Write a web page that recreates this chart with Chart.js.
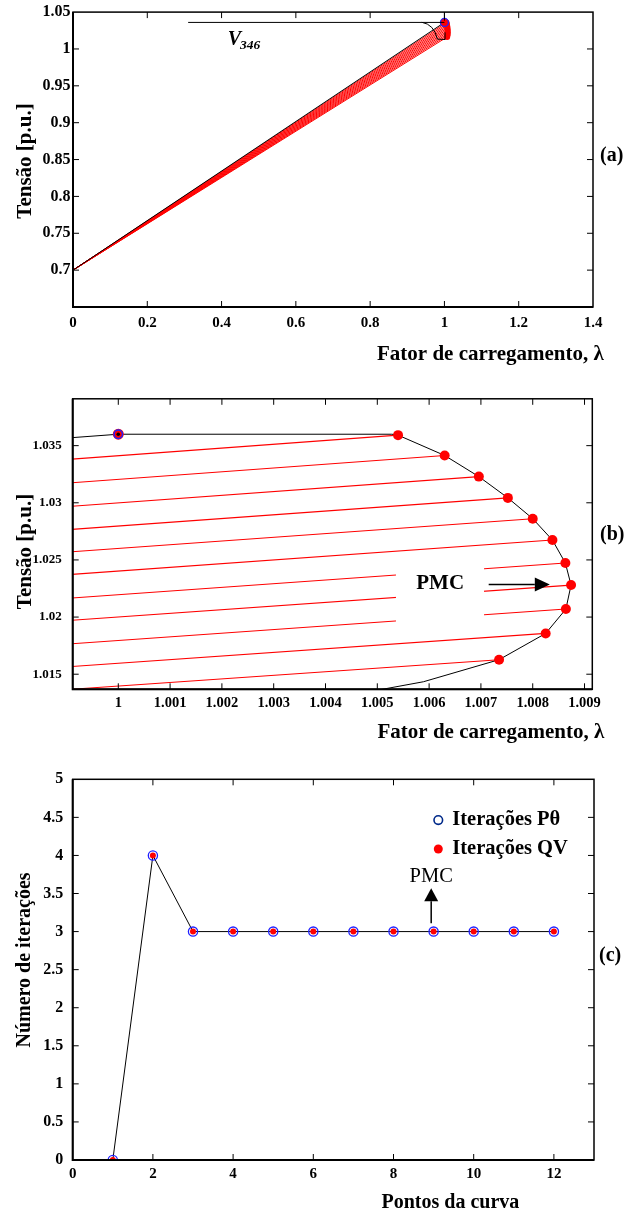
<!DOCTYPE html>
<html>
<head>
<meta charset="utf-8">
<script src="https://cdn.jsdelivr.net/npm/chart.js@4.4.1/dist/chart.umd.min.js"></script>
<style>
  html, body { margin: 0; padding: 0; background: #fff; }
  #wrap { position: relative; width: 626px; height: 1213px; }
  canvas { position: absolute; left: 0; }
</style>
</head>
<body>
<div id="wrap">
  <canvas id="chartA" width="626" height="380" style="top:0;width:626px;height:380px"></canvas>
  <canvas id="chartB" width="626" height="380" style="top:380px;width:626px;height:380px"></canvas>
  <canvas id="chartC" width="626" height="453" style="top:760px;width:626px;height:453px"></canvas>
</div>
<script>
// ---- Continuation steps near the maximum loading point (bus 346) ----
const lambdaSteps  = [1.00540, 1.00630, 1.00696, 1.00752, 1.00800, 1.00838, 1.00863, 1.00874, 1.00864, 1.00825, 1.00735];
const voltageSteps = [1.03592, 1.03414, 1.03229, 1.03043, 1.02861, 1.02674, 1.02473, 1.02280, 1.02070, 1.01857, 1.01627];

// Base case (lambda = 0) and first converged point (lambda = 1)
const lambdaBase  = [0, 1.0];
const voltageBase = [0.70, 1.0360];

// PV curve of bus 346
const pvLambda  = [0, 1.0, 1.00528, 1.00540, 1.00630, 1.00696, 1.00752, 1.00800, 1.00838, 1.00863, 1.00874, 1.00864, 1.00825, 1.00735, 1.00589, 1.00505, 1.00400];
const pvVoltage = [0.70, 1.0360, 1.0360, 1.03592, 1.03414, 1.03229, 1.03043, 1.02861, 1.02674, 1.02473, 1.02280, 1.02070, 1.01857, 1.01627, 1.01434, 1.01364, 1.01300];

// ---- Iterations per curve point ----
const curvePoints  = [1, 2, 3, 4, 5, 6, 7, 8, 9, 10, 11, 12];
const itersPtheta  = [0, 4, 3, 3, 3, 3, 3, 3, 3, 3, 3, 3];
const itersQV      = [0, 4, 3, 3, 3, 3, 3, 3, 3, 3, 3, 3];

// ---- Tick values ----
const xTicksA = [0, 0.2, 0.4, 0.6, 0.8, 1.0, 1.2, 1.4];
const yTicksA = [0.7, 0.75, 0.8, 0.85, 0.9, 0.95, 1.0, 1.05];
const xTicksB = [1.000, 1.001, 1.002, 1.003, 1.004, 1.005, 1.006, 1.007, 1.008, 1.009];
const yTicksB = [1.015, 1.020, 1.025, 1.030, 1.035];
const xTicksC = [0, 2, 4, 6, 8, 10, 12];
const yTicksC = [0, 0.5, 1, 1.5, 2, 2.5, 3, 3.5, 4, 4.5, 5];

const FAMILY = "'Liberation Serif', 'Times New Roman', serif";
const font = (size, weight = 'bold', style = 'normal') => `${style} ${weight} ${size}px ${FAMILY}`;
const fmt = v => String(parseFloat(Number(v).toFixed(4)));
const pts = (xs, ys) => xs.map((x, i) => ({ x, y: ys[i] }));

// Linear scale whose pixel mapping is not clamped to the int16 range, so that
// lines starting far outside a zoomed window keep their true direction.
const BaseLinear = Chart.registry.getScale('linear');
class UnclampedLinearScale extends BaseLinear {
  getPixelForDecimal(decimal) {
    if (this._reversePixels) decimal = 1 - decimal;
    return this._startPixel + decimal * this._length;
  }
}
UnclampedLinearScale.id = 'unclampedLinear';
UnclampedLinearScale.defaults = BaseLinear.defaults;
Chart.register(UnclampedLinearScale);

function makeScale(axis, min, max, tickVals, fontSize, pad, fitSize) {
  return {
    type: 'unclampedLinear', min, max,
    grid: { display: false, drawTicks: false },
    border: { display: false },
    afterBuildTicks: s => { s.ticks = tickVals.map(v => ({ value: v })); },
    afterFit: s => { if (axis === 'y') s.width = fitSize; else s.height = fitSize; },
    ticks: {
      autoSkip: false, maxRotation: 0, minRotation: 0, padding: pad, color: '#000',
      font: { family: FAMILY, weight: 'bold', size: fontSize },
      callback: v => fmt(v)
    }
  };
}

// Box frame with inward tick marks on all four sides
const frameTicks = {
  id: 'frameTicks',
  afterDraw(chart) {
    const { ctx, chartArea: a, scales: { x, y } } = chart;
    const len = 6;
    ctx.save();
    ctx.strokeStyle = '#000';
    ctx.lineWidth = 1;
    ctx.beginPath();
    x.ticks.forEach(t => {
      const p = x.getPixelForValue(t.value);
      if (p <= a.left + 1 || p >= a.right - 1) return;
      ctx.moveTo(p, a.bottom); ctx.lineTo(p, a.bottom - len);
      ctx.moveTo(p, a.top); ctx.lineTo(p, a.top + len);
    });
    y.ticks.forEach(t => {
      const p = y.getPixelForValue(t.value);
      if (p <= a.top + 1 || p >= a.bottom - 1) return;
      ctx.moveTo(a.left, p); ctx.lineTo(a.left + len, p);
      ctx.moveTo(a.right, p); ctx.lineTo(a.right - len, p);
    });
    ctx.stroke();
    ctx.lineWidth = 1.5;
    ctx.strokeRect(a.left, a.top, a.width, a.height);
    ctx.lineWidth = 2;
    ctx.beginPath();
    ctx.moveTo(a.left, a.top); ctx.lineTo(a.left, a.bottom); ctx.lineTo(a.right, a.bottom);
    ctx.stroke();
    ctx.restore();
  }
};
Chart.register(frameTicks);

// Axis titles and panel tag, placed in canvas coordinates
function titlesPlugin(cfg) {
  return {
    id: 'titles',
    afterDraw(chart) {
      const ctx = chart.ctx;
      ctx.save();
      ctx.fillStyle = '#000';
      ctx.font = font(cfg.titleSize);
      ctx.textAlign = 'left'; ctx.textBaseline = 'alphabetic';
      ctx.fillText(cfg.xTitle, cfg.xTitleX, cfg.xTitleY);
      ctx.save();
      ctx.font = font(cfg.yTitleSize || cfg.titleSize);
      ctx.translate(cfg.yTitleX, cfg.yTitleY);
      ctx.rotate(-Math.PI / 2);
      ctx.textAlign = 'center';
      ctx.fillText(cfg.yTitle, 0, 0);
      ctx.restore();
      ctx.font = font(20);
      ctx.textAlign = 'left'; ctx.textBaseline = 'middle';
      ctx.fillText(cfg.tag, cfg.tagX, cfg.tagY);
      ctx.restore();
    }
  };
}

function arrow(ctx, x0, y0, x1, y1, headLen, headHalf) {
  const ang = Math.atan2(y1 - y0, x1 - x0);
  const bx = x1 - headLen * Math.cos(ang), by = y1 - headLen * Math.sin(ang);
  ctx.beginPath(); ctx.moveTo(x0, y0); ctx.lineTo(bx, by); ctx.stroke();
  ctx.beginPath();
  ctx.moveTo(x1, y1);
  ctx.lineTo(bx + headHalf * Math.sin(ang), by - headHalf * Math.cos(ang));
  ctx.lineTo(bx - headHalf * Math.sin(ang), by + headHalf * Math.cos(ang));
  ctx.closePath(); ctx.fill();
}

// Predictor lines: from the base case to every continuation step
const predictorLines = (width) => lambdaSteps.map((l, i) => ({
  data: [{ x: lambdaBase[0], y: voltageBase[0] }, { x: l, y: voltageSteps[i] }],
  showLine: true, borderColor: '#ff0000', borderWidth: width, pointRadius: 0, order: 5
}));

const common = {
  responsive: false, animation: false, events: [],
  plugins: { legend: { display: false }, tooltip: { enabled: false } }
};

// ================= (a) =================
new Chart(document.getElementById('chartA'), {
  type: 'scatter',
  data: {
    datasets: [
      { data: pts(lambdaBase.slice(1), voltageBase.slice(1)), pointRadius: 4, pointBorderWidth: 1.3,
        pointBorderColor: '#1f1fff', pointBackgroundColor: '#ff0000', showLine: false, order: 0 },
      { data: pts(lambdaSteps, voltageSteps), pointRadius: 3, pointBorderWidth: 0,
        pointBackgroundColor: '#ff0000', showLine: false, order: 1 },
      { data: pts(pvLambda, pvVoltage), showLine: true, borderColor: '#000', borderWidth: 1, pointRadius: 0, order: 2 },
      ...predictorLines(1)
    ]
  },
  options: {
    ...common,
    layout: { padding: { left: 0, top: 12, right: 33, bottom: 0 } },
    scales: {
      x: makeScale('x', 0, 1.4, xTicksA, 15, 7.5, 73),
      y: makeScale('y', 0.65, 1.05, yTicksA, 16, 2.5, 73)
    }
  },
  plugins: [
    titlesPlugin({ xTitle: 'Fator de carregamento, λ', xTitleX: 377, xTitleY: 359.5, titleSize: 21,
                   yTitle: 'Tensão [p.u.]', yTitleX: 30.5, yTitleY: 161, tag: '(a)', tagX: 600, tagY: 156 }),
    {
      id: 'labelV346',
      afterDatasetsDraw(chart) {
        const { ctx, scales: { x, y } } = chart;
        ctx.save();
        ctx.strokeStyle = '#000'; ctx.lineWidth = 1;
        // leader line from the label to the first converged point
        ctx.beginPath();
        ctx.moveTo(x.getPixelForValue(0.31), y.getPixelForValue(1.036));
        ctx.lineTo(x.getPixelForValue(1.0), y.getPixelForValue(1.036));
        ctx.moveTo(x.getPixelForValue(1.0), y.getPixelForValue(1.05));
        ctx.lineTo(x.getPixelForValue(1.0), y.getPixelForValue(1.0385));
        ctx.stroke();
        // bracket around the fan of steps
        ctx.beginPath();
        ctx.moveTo(x.getPixelForValue(0.939), y.getPixelForValue(1.0362));
        ctx.quadraticCurveTo(x.getPixelForValue(0.972), y.getPixelForValue(1.0335),
                             x.getPixelForValue(0.981), y.getPixelForValue(1.0134));
        ctx.lineTo(x.getPixelForValue(1.0016), y.getPixelForValue(1.0128));
        ctx.lineTo(x.getPixelForValue(1.0016), y.getPixelForValue(1.0225));
        ctx.stroke();
        // V_346 label
        const lx = x.getPixelForValue(0.4165), ly = y.getPixelForValue(1.0053);
        ctx.fillStyle = '#000';
        ctx.textAlign = 'left'; ctx.textBaseline = 'alphabetic';
        ctx.font = font(20, 'bold', 'italic');
        ctx.fillText('V', lx, ly);
        const w = ctx.measureText('V').width;
        ctx.font = font(13.5, 'bold', 'italic');
        ctx.fillText('346', lx + w - 1, ly + 4);
        ctx.restore();
      }
    }
  ]
});

// ================= (b) =================
new Chart(document.getElementById('chartB'), {
  type: 'scatter',
  data: {
    datasets: [
      { data: pts(lambdaBase.slice(1), voltageBase.slice(1)), pointRadius: 1.8, pointBorderWidth: 0,
        pointBackgroundColor: '#000', showLine: false, order: 0 },
      { data: pts(lambdaBase.slice(1), voltageBase.slice(1)), pointRadius: 4.2, pointBorderWidth: 1.5,
        pointBorderColor: '#2020ff', pointBackgroundColor: 'rgba(0,0,0,0)', showLine: false, order: 0.5 },
      { data: pts(lambdaBase.slice(1), voltageBase.slice(1)), pointRadius: 5.5, pointBorderWidth: 0,
        pointBackgroundColor: '#ff0000', showLine: false, order: 0.8 },
      { data: pts(lambdaSteps, voltageSteps), pointRadius: 5, pointBorderWidth: 0,
        pointBackgroundColor: '#ff0000', showLine: false, order: 1 },
      { data: pts(pvLambda, pvVoltage), showLine: true, borderColor: '#000', borderWidth: 1, pointRadius: 0, order: 2 },
      ...predictorLines(1.1)
    ]
  },
  options: {
    ...common,
    layout: { padding: { left: 0, top: 15, right: 33.7, bottom: 0 } },
    scales: {
      x: makeScale('x', 0.99912, 1.00915, xTicksB, 14.5, 5, 70.7),
      y: makeScale('y', 1.01368, 1.0391, yTicksB, 13, 11, 72.7)
    }
  },
  plugins: [
    titlesPlugin({ xTitle: 'Fator de carregamento, λ', xTitleX: 377.5, xTitleY: 357.5, titleSize: 21,
                   yTitle: 'Tensão [p.u.]', yTitleX: 30.5, yTitleY: 171.5, tag: '(b)', tagX: 600, tagY: 155 }),
    {
      id: 'pmcB',
      afterDatasetsDraw(chart) {
        const { ctx, scales: { x, y } } = chart;
        ctx.save();
        // text box with white background
        const x0 = x.getPixelForValue(1.00536), x1 = x.getPixelForValue(1.00706);
        const y0 = y.getPixelForValue(1.02553), y1 = y.getPixelForValue(1.01880);
        ctx.fillStyle = '#fff';
        ctx.fillRect(x0, y0, x1 - x0, y1 - y0);
        ctx.fillStyle = '#000';
        ctx.font = font(21);
        ctx.textAlign = 'center'; ctx.textBaseline = 'middle';
        ctx.fillText('PMC', x.getPixelForValue(1.006213), y.getPixelForValue(1.02297));
        ctx.strokeStyle = '#000'; ctx.lineWidth = 1.5;
        arrow(ctx, x.getPixelForValue(1.00715), y.getPixelForValue(1.02285),
                   x.getPixelForValue(1.00833), y.getPixelForValue(1.02285), 15, 7);
        ctx.restore();
      }
    }
  ]
});

// ================= (c) =================
new Chart(document.getElementById('chartC'), {
  type: 'scatter',
  data: {
    datasets: [
      { label: 'Iterações QV', data: pts(curvePoints, itersQV), pointRadius: 3, pointBorderWidth: 0,
        pointBackgroundColor: '#ff0000', showLine: false, order: 0 },
      { label: 'Iterações Pθ', data: pts(curvePoints, itersPtheta), showLine: true,
        borderColor: '#000', borderWidth: 1, pointRadius: 4.6, pointBorderWidth: 1.3,
        pointBorderColor: '#1f1fff', pointBackgroundColor: 'rgba(0,0,0,0)', order: 1 }
    ]
  },
  options: {
    ...common,
    layout: { padding: { left: 0, top: 19.3, right: 32, bottom: 0 } },
    scales: {
      x: makeScale('x', 0, 13, xTicksC, 15, 5.3, 53),
      y: makeScale('y', 0, 5, yTicksC, 16, 9.5, 72.7)
    }
  },
  plugins: [
    titlesPlugin({ xTitle: 'Pontos da curva', xTitleX: 381.5, xTitleY: 447.5, titleSize: 20,
                   yTitle: 'Número de iterações', yTitleX: 30, yTitleY: 200, tag: '(c)', tagX: 599, tagY: 196 }),
    {
      id: 'legendPmcC',
      afterDatasetsDraw(chart) {
        const { ctx, scales: { x, y } } = chart;
        const ds = chart.data.datasets;
        ctx.save();
        // legend
        const mx = x.getPixelForValue(9.117), tx = x.getPixelForValue(9.466);
        const r1 = y.getPixelForValue(4.465), r2 = y.getPixelForValue(4.085);
        ctx.strokeStyle = '#002a8a'; ctx.lineWidth = 1.6;
        ctx.beginPath(); ctx.arc(mx, r1, 4.3, 0, 2 * Math.PI); ctx.stroke();
        ctx.fillStyle = '#ff0000';
        ctx.beginPath(); ctx.arc(mx, r2, 4.5, 0, 2 * Math.PI); ctx.fill();
        ctx.fillStyle = '#000';
        ctx.font = font(20.5);
        ctx.textAlign = 'left'; ctx.textBaseline = 'middle';
        ctx.fillText(ds[1].label, tx, r1);
        ctx.fillText(ds[0].label, tx, r2);
        // maximum loading point marker
        ctx.font = font(20.5, 'normal');
        ctx.textAlign = 'center';
        ctx.fillText('PMC', x.getPixelForValue(8.94), y.getPixelForValue(3.717));
        ctx.strokeStyle = '#000'; ctx.lineWidth = 1.5;
        arrow(ctx, x.getPixelForValue(8.94), y.getPixelForValue(3.11),
                   x.getPixelForValue(8.94), y.getPixelForValue(3.57), 13, 7);
        ctx.restore();
      }
    }
  ]
});
</script>
</body>
</html>
